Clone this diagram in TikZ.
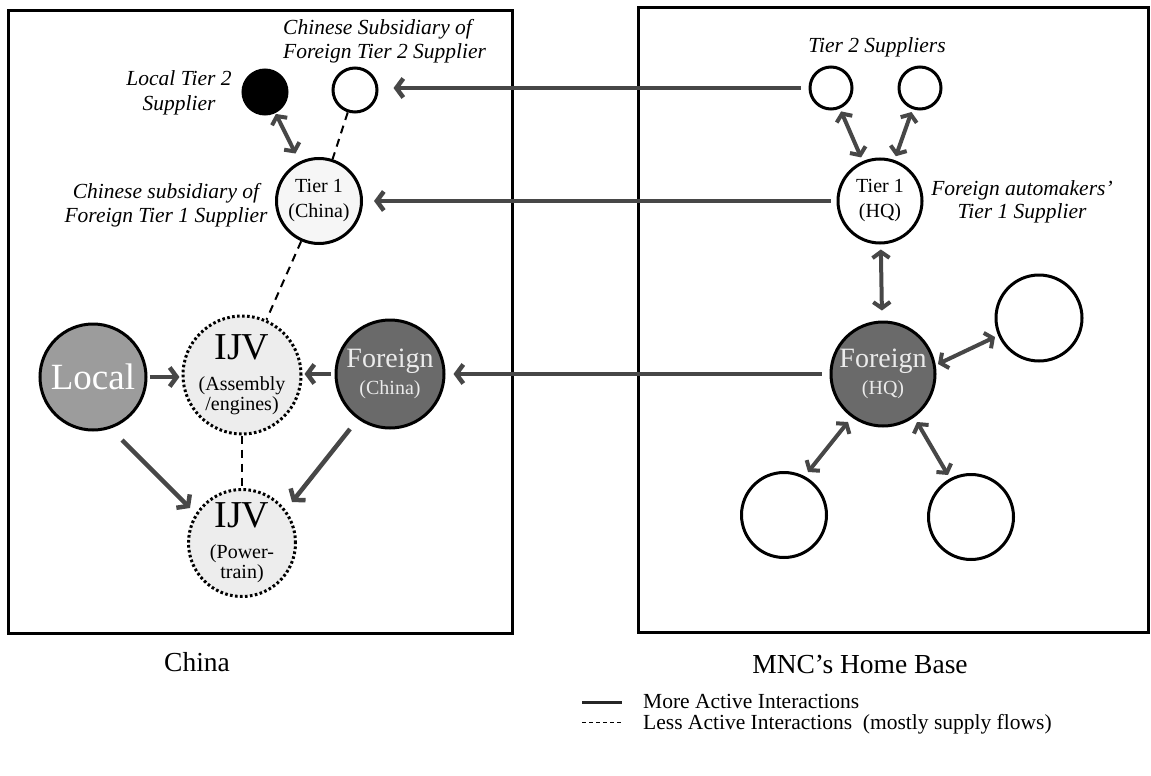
\documentclass[tikz,border=0pt]{standalone}
\usepackage{fontspec}
\setmainfont{Liberation Serif}
\usetikzlibrary{arrows.meta,calc}
\definecolor{arrc}{HTML}{474747}
\definecolor{localc}{HTML}{9C9C9C}
\definecolor{foreignc}{HTML}{6A6A6A}
\definecolor{ijvc}{HTML}{EDEDED}
\definecolor{tcn}{HTML}{F6F6F6}
\newcommand{\fs}[1]{\fontsize{#1}{#1}\selectfont}
\newcommand{\fsb}[2]{\fontsize{#1}{#2}\selectfont}
\begin{document}
\begin{tikzpicture}[x=1pt,y=-1pt,
  frame/.style={draw,line width=3pt},
  circ/.style={circle,draw,line width=3pt,inner sep=0pt,align=center},
  ijv/.style={circ,dash pattern=on 2.6pt off 2.4pt,fill=ijvc,font=\fsb{20}{20}},
  arr/.style={draw=arrc,line width=4.5pt,-{Straight Barb[length=7pt,width=19pt]}},
  darr/.style={draw=arrc,line width=4pt,{Straight Barb[length=6pt,width=17pt]}-{Straight Barb[length=6pt,width=17pt]}},
  dsh/.style={line width=2pt,dash pattern=on 8pt off 6pt},
  lab/.style={font=\fs{21.5}\itshape,align=center,inner sep=0pt},
]
\useasboundingbox (0,0) rectangle (1151,776);
% frames
\draw[frame] (8,11) rectangle (512,633);
\draw[frame] (638,8) rectangle (1148,632);

% China side nodes
\node[circ,fill=black,minimum size=44pt] (lt2) at (265,92) {};
\node[circ,fill=white,minimum size=44pt] (cs2) at (355,90) {};
\node[circ,fill=tcn,minimum size=85pt,font=\fsb{20}{25}] (t1cn) at (319,201) {Tier 1\\(China)};
\node[circ,fill=localc,minimum size=106pt,text=white,font=\fs{37}] (local) at (93,377) {Local};
\node[ijv,minimum size=106pt] (ijv1) at (242,375) {{\fs{38}IJV}\\[11pt](Assembly\\/engines)};
\node[circ,fill=foreignc,minimum size=108pt,text=white!92!black,font=\fsb{20}{20}] (fcn) at (390,374) {{\fs{28}Foreign}\\[7pt](China)};
\node[ijv,minimum size=107pt] (ijv2) at (242,543) {{\fs{38}IJV}\\[11pt](Power-\\train)};

% Home base nodes
\node[circ,fill=white,minimum size=42pt] (t2a) at (831,88) {};
\node[circ,fill=white,minimum size=42pt] (t2b) at (920,88) {};
\node[circ,fill=white,minimum size=84pt,font=\fsb{20}{25}] (t1hq) at (880,201) {Tier 1\\(HQ)};
\node[circ,fill=foreignc,minimum size=104pt,text=white!92!black,font=\fsb{20}{20}] (fhq) at (883,374) {{\fs{28}Foreign}\\[7pt](HQ)};
\node[circ,fill=white,minimum size=86pt] (ur) at (1039,318) {};
\node[circ,fill=white,minimum size=85pt] (ll) at (784,515) {};
\node[circ,fill=white,minimum size=85pt] (lr) at (971,517) {};

% labels
\node[lab,align=left,anchor=west] (l1) at (283,41) {Chinese Subsidiary of\\[2pt]Foreign Tier 2 Supplier};
\node[lab] (l2) at (179,93) {Local Tier 2\\[4pt]Supplier};
\node[lab] (l3) at (166,205) {Chinese subsidiary of\\[3pt]Foreign Tier 1 Supplier};
\node[lab] (l4) at (877,47) {Tier 2 Suppliers};
\node[lab] (l5) at (1022,202) {Foreign automakers'\\[2pt]Tier 1 Supplier};
\node[font=\fs{27.5}] (china) at (197,662) {China};
\node[font=\fs{27.5}] (mnc) at (860,664) {MNC's Home Base};

% cross-border arrows
\draw[arr,shorten <=8pt,shorten >=15pt] (t2a.west) -- (t2a.west -| cs2.east);
\draw[arr,shorten <=6pt,shorten >=11pt] (t1hq.west) -- (t1hq.west -| t1cn.east);
\draw[arr,shorten <=8pt,shorten >=8pt] (fhq.west) -- (fhq.west -| fcn.east);

% China internal
\draw[darr,shorten <=1pt,shorten >=9pt] (lt2) -- (t1cn);
\draw[dsh] (cs2) -- (t1cn);
\draw[dsh] (t1cn) -- (ijv1);
\draw[dsh] (ijv1) -- (ijv2);
\draw[arr,shorten <=2pt,shorten >=2pt] (local.east) -- (local.east -| ijv1.west);
\draw[arr,shorten <=4pt,shorten >=2pt] (fcn.west) -- (fcn.west -| ijv1.east);
\draw[arr] ([shift={(29,63)}]local.center) -- ([shift={(-52,-35)}]ijv2.center);
\draw[arr] ([shift={(-40,55)}]fcn.center) -- ([shift={(50,-41)}]ijv2.center);

% Home base internal
\draw[darr,shorten <=3pt,shorten >=4pt] (t2a) -- (t1hq);
\draw[darr,shorten <=3pt,shorten >=4pt] (t2b) -- (t1hq);
\draw[darr,shorten <=5pt,shorten >=10pt] (t1hq) -- (fhq);
\draw[darr] ([shift={(55,-10)}]fhq.center) -- ([shift={(-44,19)}]ur.center);
\draw[darr] ([shift={(-35,48)}]fhq.center) -- ([shift={(24,-43)}]ll.center);
\draw[darr] ([shift={(34,48)}]fhq.center) -- ([shift={(-23,-42)}]lr.center);

% legend
\coordinate (s1) at (582,702);
\coordinate (s2) at (622,702);
\coordinate (d1) at (582,722);
\coordinate (d2) at (622,722);
\draw[line width=3pt,draw=black!85] (s1) -- (s2);
\draw[line width=1pt,dash pattern=on 4pt off 3pt] (d1) -- (d2);
\node[anchor=west,font=\fs{21.5},inner sep=0pt] (m1) at (643,701) {More Active Interactions};
\node[anchor=west,font=\fs{21.5},inner sep=0pt] (m2) at (643,724) {Less Active Interactions\ \ (mostly supply flows)};
\end{tikzpicture}
\end{document}
